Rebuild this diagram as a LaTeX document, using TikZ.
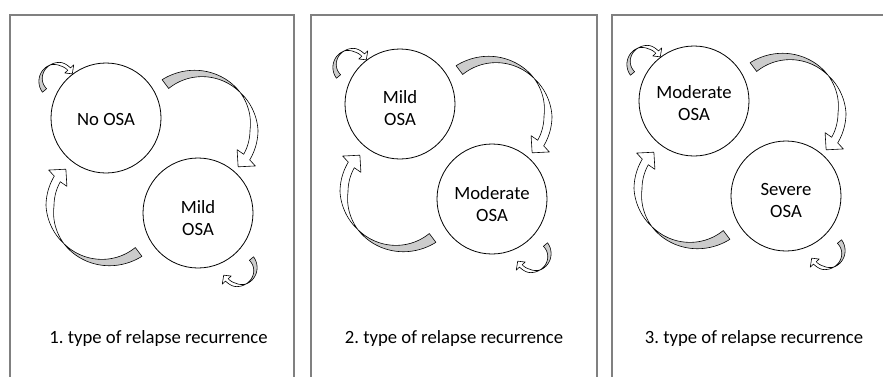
\documentclass[tikz,border=0pt]{standalone}
\usepackage{fontspec}
\setmainfont{Carlito}
\frenchspacing
\newcommand\bigarrow{%
 \path[shadepart] plot[domain=-127:-43,samples=30,variable=\t] (\t:{63-8*(\t+127)/84}) -- plot[domain=-43:-127,samples=30,variable=\t] (\t:{52+3*(\t+127)/84}) -- cycle;
 \path[frontpart] plot[domain=-43:31,samples=40,variable=\t] (\t:{55+3*min(1,(\t+43)/43)}) -- (33:66) -- (44:53) -- (28:42) -- plot[domain=29:-43,samples=40,variable=\t] (\t:{55-5*min(1,(\t+43)/43)}) -- cycle;
}
\newcommand\smallarrow{%
 \path[shadepart] plot[domain=140:245,samples=25,variable=\t] (\t:{19-2.5*(\t-140)/105}) -- plot[domain=245:140,samples=25,variable=\t] (\t:{13.5+3*(\t-140)/105}) -- cycle;
 \path[frontpart] plot[domain=245:318,samples=25,variable=\t] (\t:{16.5+1.5*min(1,(\t-245)/40)}) -- (318:22.5) -- (338:16.5) -- (318:10.5) -- plot[domain=318:245,samples=25,variable=\t] (\t:{16.5-2*min(1,(\t-245)/40)}) -- cycle;
}
% #1,#2: centre of first circle; #3 #4 names; #5 #6 texts; #7 #8 text shifts
\newcommand\panelpic[8]{%
 \begin{scope}[shift={(#1,#2)}]
  \node[circ] (#3) at (0,0) {};
  \node[ctext] (#3t) at (0,#7) {#5};
  \node[circ] (#4) at (92,95) {};
  \node[ctext] (#4t) at (92,95+#8) {#6};
  \begin{scope}[shift={(94,12)}]\bigarrow\end{scope}
  \begin{scope}[shift={(-2,88)},rotate=180]\bigarrow\end{scope}
  \begin{scope}[shift={(-49,-38)}]\smallarrow\end{scope}
  \begin{scope}[shift={(133,151)},rotate=180]\smallarrow\end{scope}
 \end{scope}}
\begin{document}
\begin{tikzpicture}[x=1pt,y=-1pt,
  circ/.style={circle,draw=black,line width=0.8pt,minimum size=110pt,inner sep=0pt},
  ctext/.style={align=center,inner sep=0pt,font=\fontsize{18.7}{22}\selectfont},
  lbl/.style={font=\fontsize{18.7}{22.5}\selectfont,anchor=base},
  frame/.style={draw=black!50,line width=1.5pt},
  shadepart/.style={fill=black!20,draw=black,line width=0.6pt,line join=round},
  frontpart/.style={fill=white,draw=black,line width=0.6pt,line join=round}]
\useasboundingbox (0,0) rectangle (883,376);
\fill[white] (0,0) rectangle (883,376);
\draw[frame] (10,380) -- (10,15) -- (294,15) -- (294,380);
\draw[frame] (311,380) -- (311,15) -- (597,15) -- (597,380);
\draw[frame] (612,380) -- (612,15) -- (890,15);
\panelpic{106}{118}{a1}{b1}{No OSA}{Mild\\OSA}{1}{5}
\panelpic{400}{104}{a2}{b2}{Mild\\OSA}{Moderate\\OSA}{4}{5}
\panelpic{694}{101}{a3}{b3}{Moderate\\OSA}{Severe\\OSA}{2}{4}
\node[lbl] (t1) at (158.5,343) {1. type of relapse recurrence};
\node[lbl] (t2) at (454,343) {2. type of relapse recurrence};
\node[lbl] (t3) at (754,343) {3. type of relapse recurrence};
\end{tikzpicture}
\end{document}
